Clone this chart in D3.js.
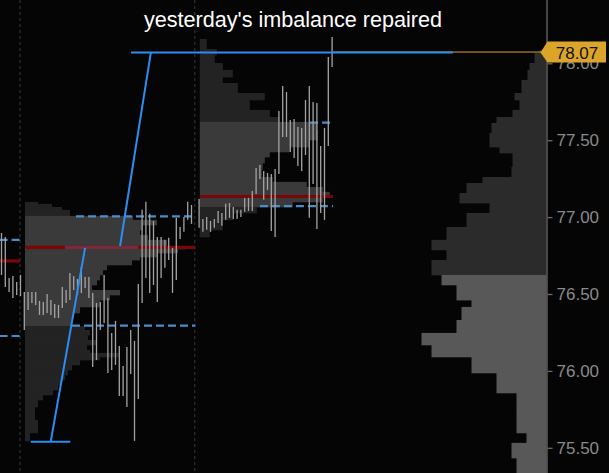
<!DOCTYPE html>
<html><head><meta charset="utf-8">
<script src="https://cdn.jsdelivr.net/npm/d3@7/dist/d3.min.js"></script>
<style>html,body{margin:0;padding:0;background:#050505;overflow:hidden}svg{display:block}</style>
</head><body><svg id="c" width="609" height="473"></svg>
<script>
// ---------- DATA ----------
const title = "yesterday's imbalance repaired";
const lastPrice = 78.07;
const yTicks = [75.5, 76.0, 76.5, 77.0, 77.5, 78.0];
const sessionBreaks = [-1, 45];

// price bars (high / low), by bar index
const prevStart = -6;
const prevHighs = [76.897, 76.871, 76.604, 76.617, 76.578, 76.624];
const prevLows  = [76.624, 76.546, 76.513, 76.474, 76.494, 76.487];

const s2Start = 0;
const s2Highs = [76.513,76.513,76.513,76.513,76.455,76.448,76.500,76.461,76.435,76.429,
                 76.546,76.526,76.637,76.617,76.598,76.676,76.611,76.611,76.507,76.442,
                 76.448,76.624,76.474,76.247,76.325,76.162,76.032,76.156,76.266,76.195,
                 76.565,77.047,77.099,77.021,76.975,76.871,76.871,76.852,76.865,76.800,
                 76.995,76.936,77.001,77.099,77.079];
const s2Lows  = [76.266,76.396,76.442,76.429,76.364,76.364,76.377,76.364,76.344,76.344,
                 76.409,76.442,76.461,76.526,76.494,76.507,76.539,76.474,76.026,76.071,
                 76.266,76.312,75.987,76.006,76.039,75.837,75.837,75.766,75.980,75.545,
                 75.818,76.442,76.604,76.507,76.559,76.448,76.604,76.670,76.721,76.507,
                 76.591,76.858,76.904,76.982,76.956];

const s3Start = 46;
const s3Highs = [77.118,76.988,77.001,76.975,76.988,77.040,77.027,77.086,77.092,77.066,
                 77.047,77.047,77.125,77.125,77.170,77.320,77.339,77.300,77.287,77.281,
                 77.313,77.690,77.853,77.814,77.632,77.638,77.586,77.580,77.762,77.853,
                 77.749,77.742,77.463,77.580,78.041,78.171];
const s3Lows  = [76.930,76.904,76.917,76.904,76.930,76.962,76.943,76.982,76.995,76.988,
                 76.988,77.001,77.034,77.040,77.040,77.151,77.248,77.112,77.177,76.910,
                 76.871,77.281,77.521,77.521,77.424,77.385,77.333,77.300,77.404,76.995,
                 77.216,76.923,77.027,76.982,77.463,77.976];

// volume profiles: price level boundaries and volume per row
const prevVA = [76.852, 76.227];
const prevPOC = 76.715;

const s2Levels = [77.099,77.086,77.066,77.047,77.008,76.982,76.949,76.917,76.884,76.852,
                  76.812,76.793,76.767,76.741,76.721,76.689,76.657,76.624,76.591,76.559,
                  76.526,76.494,76.461,76.416,76.377,76.331,76.292,76.266,76.234,76.201,
                  76.169,76.136,76.117,76.091,76.071,76.039,76.006,75.974,75.941,75.909,
                  75.876,75.844,75.811,75.766,75.681,75.597,75.545];
const s2Vols = [13,27,37,45,108,132,118,115,123,142,
                160,153,132,115,107,82,78,75,72,67,
                95,85,75,55,48,47,60,65,63,72,
                62,65,95,75,55,47,43,40,37,33,
                28,18,13,10,13,5];
const s2VA = [77.005, 76.295];
const s2POC = 76.803;
const s2VAstart = [13.6, 12.55];
const s2End = 45;

const s3Levels = [78.158,78.093,78.054,78.002,77.957,77.911,77.872,77.807,77.762,77.697,
                  77.651,77.619,77.567,77.502,77.456,77.424,77.391,77.352,77.307,77.261,
                  77.229,77.196,77.164,77.131,77.099,77.066,77.027,76.982,76.917,76.871];
const s3Vols = [7,17,15,23,33,23,38,65,50,70,80,
                117,118,110,90,70,65,63,62,73,107,123,130,123,93,
                57,33,23,10];
const s3VA = [77.614, 77.072];
const s3POC = 77.134;
const s3VAstart = [75.2, 62];
const s3End = 81.25;

const compLevels = [78.087,78.067,78.002,77.957,77.892,77.807,77.762,77.697,77.651,77.612,
                    77.547,77.456,77.417,77.326,77.261,77.222,77.157,77.092,77.027,76.936,
                    76.852,76.787,76.721,76.624,76.559,76.461,76.416,76.331,76.247,76.169,
                    76.091,75.987,75.857,75.727,75.597,75.532,75.434,75.337];
const compVols = [7,12,17,19,25,32,27,34,50,55,57,47,34,35,64,80,87,57,80,100,115,100,115,
                  105,90,75,85,90,125,115,75,50,30,30,20,35,30];
const compSplit = 76.624;

// drawn trend lines: [barIndex, price]
const trendLines = [
  [[33.3, 78.07], [25.2, 76.812]],
  [[16.0, 76.80], [6.95, 75.54]],
  [[28.1, 78.07], [112.8, 78.07]],
  [[1.7, 75.54], [12.1, 75.54]]
];
const pocHighlight = [10.7, 30.0];

// ---------- CHART ----------
const W = 609, H = 473, axisX = 546.5;
const svg = d3.select('#c');
svg.append('rect').attr('width', W).attr('height', H).attr('fill', '#050505');

const y = d3.scaleLinear().domain([75.5, 78]).range([447.8, 63.3]);
const x = d3.scaleLinear().domain([0, 44]).range([24.3, 191.5]);
const v = d3.scaleLinear().domain([0, 100]).range([0, 100]);

function rows(levels, vols) { return vols.map((vol, k) => ({hi: levels[k], lo: levels[k + 1], vol})); }

// composite profile (anchored at axis)
svg.append('g').selectAll('rect').data(rows(compLevels, compVols)).join('rect')
  .attr('x', d => axisX - v(d.vol)).attr('y', d => y(d.hi))
  .attr('width', d => v(d.vol)).attr('height', d => y(d.lo) - y(d.hi) + 0.4)
  .attr('fill', d => ((d.hi + d.lo) / 2 > compSplit) ? '#2b2b2b' : '#585858');

function drawProfile(levels, vols, start, va) {
  svg.append('g').selectAll('rect').data(rows(levels, vols)).join('rect')
    .attr('x', x(start) + 0.7).attr('y', d => y(d.hi))
    .attr('width', d => v(d.vol)).attr('height', d => y(d.lo) - y(d.hi) + 0.4)
    .attr('fill', d => { const m = (d.hi + d.lo) / 2; return (m <= va[0] && m >= va[1]) ? '#3a3a3a' : '#232323'; });
}
drawProfile(s2Levels, s2Vols, s2Start, s2VA);
drawProfile(s3Levels, s3Vols, s3Start, s3VA);

// session separators
svg.append('g').selectAll('line').data(sessionBreaks).join('line')
  .attr('x1', d => x(d) - 0.5).attr('x2', d => x(d) - 0.5).attr('y1', 0).attr('y2', H)
  .attr('stroke', '#3a3a3a').attr('stroke-width', 1).attr('stroke-dasharray', '3,3');

// value area lines
const vaLines = [
  {p: prevVA[0], a: -6.5, b: -1.1}, {p: prevVA[1], a: -6.5, b: -1.1},
  {p: s2VA[0], a: s2VAstart[0], b: s2End}, {p: s2VA[1], a: s2VAstart[1], b: s2End},
  {p: s3VA[0], a: s3VAstart[0], b: s3End}, {p: s3VA[1], a: s3VAstart[1], b: s3End}
];
svg.append('g').selectAll('line').data(vaLines).join('line')
  .attr('x1', d => x(d.a)).attr('x2', d => x(d.b)).attr('y1', d => y(d.p)).attr('y2', d => y(d.p))
  .attr('stroke', '#4a8ccc').attr('stroke-width', 2.2).attr('stroke-dasharray', '8,4');

// POC lines
const pocLines = [
  {p: prevPOC, a: -6.5, b: -1.1}, {p: s2POC, a: s2Start + 0.2, b: s2End}, {p: s3POC, a: s3Start + 0.2, b: s3End}
];
svg.append('g').selectAll('line').data(pocLines).join('line')
  .attr('x1', d => x(d.a)).attr('x2', d => x(d.b)).attr('y1', d => y(d.p)).attr('y2', d => y(d.p))
  .attr('stroke', '#7c0606').attr('stroke-width', 3.2);
svg.append('line').attr('x1', x(pocHighlight[0])).attr('x2', x(pocHighlight[1]))
  .attr('y1', y(s2POC)).attr('y2', y(s2POC)).attr('stroke', '#7a2a3c').attr('stroke-width', 3.2);

// bars
function bars(start, highs, lows) {
  const data = highs.map((h, k) => ({i: start + k, h, l: lows[k]}));
  svg.append('g').selectAll('line').data(data).join('line')
    .attr('x1', d => x(d.i)).attr('x2', d => x(d.i)).attr('y1', d => y(d.h)).attr('y2', d => y(d.l))
    .attr('stroke', '#a4a4a4').attr('stroke-width', 1.3);
}
bars(prevStart, prevHighs, prevLows);
bars(s2Start, s2Highs, s2Lows);
bars(s3Start, s3Highs, s3Lows);

// last price line
svg.append('line').attr('x1', x(s3End)).attr('x2', axisX).attr('y1', y(lastPrice) - 0.5).attr('y2', y(lastPrice) - 0.5)
  .attr('stroke', '#d9a42a').attr('stroke-width', 1);

// trend lines
const line = d3.line().x(d => x(d[0])).y(d => y(d[1]));
svg.append('g').selectAll('path').data(trendLines).join('path')
  .attr('d', line).attr('fill', 'none').attr('stroke', '#2a8ef2').attr('stroke-width', 2);

// axis
svg.append('line').attr('x1', axisX + 0.5).attr('x2', axisX + 0.5).attr('y1', 0).attr('y2', H)
  .attr('stroke', '#5c5c5c').attr('stroke-width', 1.5);
const ax = svg.append('g').attr('transform', `translate(${axisX + 1},0)`)
  .call(d3.axisRight(y).tickValues(yTicks).tickFormat(d3.format('.2f')).tickSize(5).tickSizeOuter(0).tickPadding(4));
ax.select('.domain').remove();
ax.selectAll('line').attr('stroke', '#6a6a6a').attr('stroke-width', 1.3);
ax.selectAll('text').attr('fill', '#8a8a8a').attr('font-size', 17)
  .attr('font-family', '"Liberation Sans", Arial, sans-serif');

// price tag
const ty = y(lastPrice);
svg.append('path')
  .attr('d', `M${axisX - 6},${ty} L${axisX + 1},${ty - 11} L606,${ty - 11} L606,${ty + 10} L${axisX + 1},${ty + 10} Z`)
  .attr('fill', '#dba52b');
svg.append('text').attr('x', 577).attr('y', ty + 6).attr('text-anchor', 'middle')
  .attr('font-family', '"Liberation Sans", Arial, sans-serif').attr('font-size', 17).attr('fill', '#111')
  .text(d3.format('.2f')(lastPrice));

// title
svg.append('text').attr('x', 293).attr('y', 27).attr('text-anchor', 'middle')
  .attr('font-family', '"Liberation Sans", Arial, sans-serif').attr('font-size', 21.6).attr('fill', '#ffffff')
  .text(title);
</script></body></html>
